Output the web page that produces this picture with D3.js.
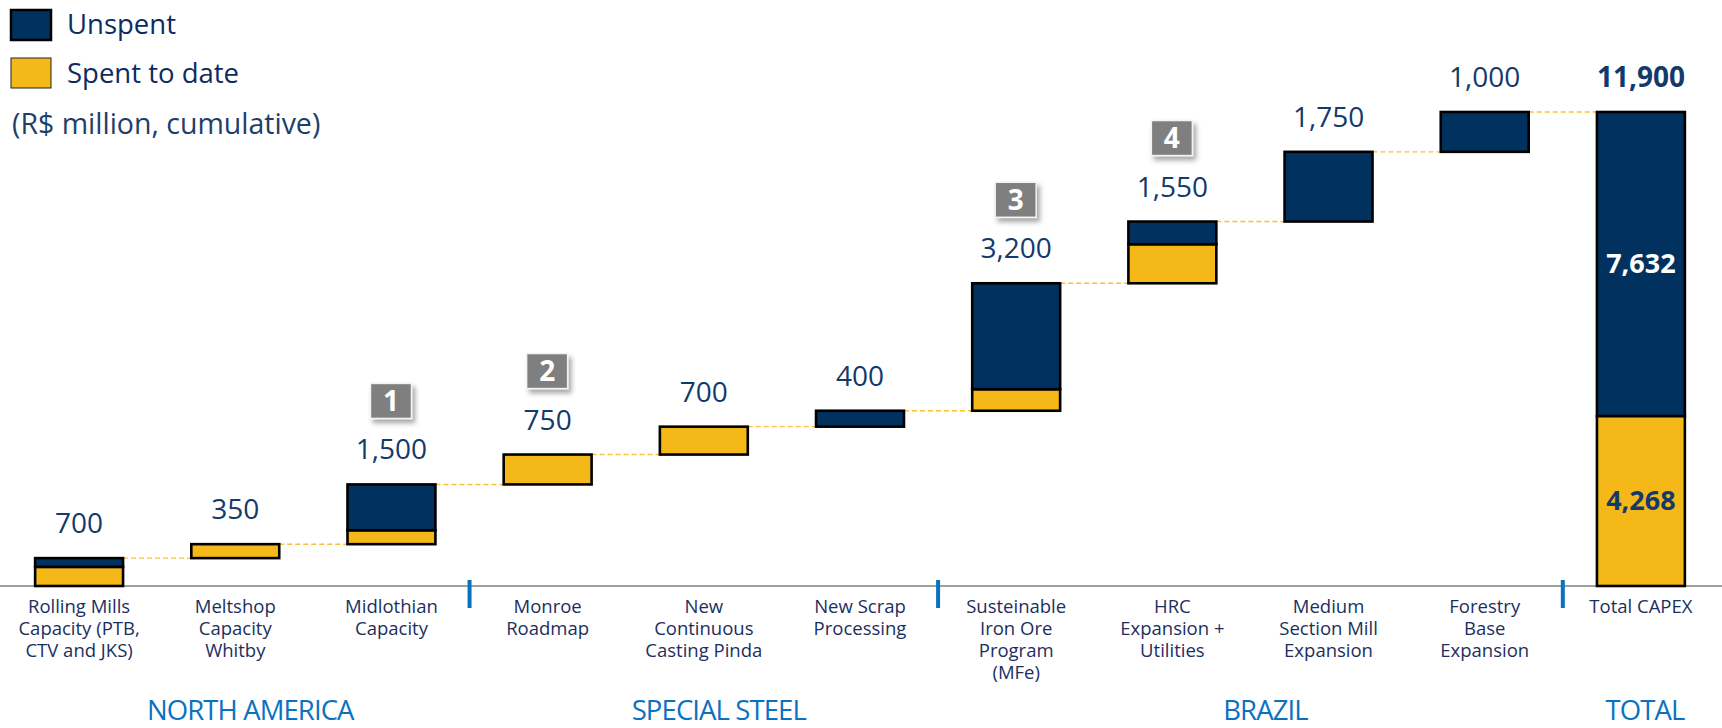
<!DOCTYPE html>
<html>
<head>
<meta charset="utf-8">
<script src="https://cdn.jsdelivr.net/npm/d3@7"></script>
<style>
	body { margin: 0; background: #fff; }
	svg { display: block; font-family: "Open Sans", sans-serif; }
</style>
</head>
<body>
<div id="chart"></div>
<script>
// configure chart
const width = 1722
const height = 728

// data (R$ million)
const categories = [
	"Rolling Mills|Capacity (PTB,|CTV and JKS)",
	"Meltshop|Capacity|Whitby",
	"Midlothian|Capacity",
	"Monroe|Roadmap",
	"New|Continuous|Casting Pinda",
	"New Scrap|Processing",
	"Susteinable|Iron Ore|Program|(MFe)",
	"HRC|Expansion +|Utilities",
	"Medium|Section Mill|Expansion",
	"Forestry|Base|Expansion",
	"Total CAPEX"
];
const projectTotals = [700, 350, 1500, 750, 700, 400, 3200, 1550, 1750, 1000];
const spent   = [480, 350, 350, 750, 700, 0, 540, 980, 0, 0];
const unspent = [220, 0, 1150, 0, 0, 400, 2660, 570, 1750, 1000];
const totalCapex = 11900;
const totalSpent = 4268;
const totalUnspent = 7632;

// sections under the axis, by category index
const sectionNames = ["NORTH AMERICA", "SPECIAL STEEL", "BRAZIL", "TOTAL"];
const sectionMembers = [[0, 1, 2], [3, 4, 5], [6, 7, 8, 9], [10]];

// numbered badges: [category index, number]
const badges = [[2, "1"], [3, "2"], [6, "3"], [7, "4"]];

const navy = "#00315f";
const gold = "#f4b918";
const textNavy = "#123a6b";
const sectionBlue = "#0a72bf";

window.onload = function(){
	var svg = d3.select('#chart').append('svg')
		.attr('width', width)
		.attr('height', height);

	var defs = svg.append('defs');
	var shadow = defs.append('filter').attr('id', 'shadow')
		.attr('x', '-30%').attr('y', '-30%').attr('width', '170%').attr('height', '170%');
	shadow.append('feDropShadow')
		.attr('dx', 3).attr('dy', 4).attr('stdDeviation', 2.5)
		.attr('flood-color', '#000').attr('flood-opacity', 0.35);

	var x = d3.scaleBand()
		.domain(categories)
		.range([1, 1719])
		.paddingInner(0.437)
		.paddingOuter(0.2185);

	var y = d3.scaleLinear()
		.domain([0, totalCapex])
		.range([586, 112]);

	// build the waterfall steps
	var steps = [];
	var base = 0;
	projectTotals.forEach(function(v, i){
		steps.push({cat: categories[i], base: base, spent: spent[i], unspent: unspent[i], total: v});
		base += v;
	});
	var totalStep = {cat: categories[10], base: 0, spent: totalSpent, unspent: totalUnspent, total: totalCapex};

	// axis line along the bottom
	var axis = d3.axisBottom(x).tickSize(0).tickFormat('');
	var axisG = svg.append('g').attr('transform', 'translate(0,' + y(0) + ')').call(axis);
	axisG.select('.domain').remove();
	axisG.append('line')
		.attr('x1', 0).attr('x2', width)
		.attr('stroke', '#7f7f7f').attr('stroke-width', 1.6);

	// dashed connectors from top of each step to the next bar
	var connectors = svg.append('g').attr('id', 'connectors');
	steps.forEach(function(d, i){
		var next = i < steps.length - 1 ? steps[i + 1].cat : totalStep.cat;
		connectors.append('line')
			.attr('x1', x(d.cat) + x.bandwidth())
			.attr('x2', x(next))
			.attr('y1', y(d.base + d.total))
			.attr('y2', y(d.base + d.total))
			.attr('stroke', '#f7c236')
			.attr('stroke-width', 1.4)
			.attr('stroke-dasharray', '5,3');
	});

	// bars: spent below, unspent on top, one outline for each piece
	var bars = svg.append('g').attr('id', 'bars');
	function drawBar(d){
		var pieces = [
			{from: d.base, to: d.base + d.spent, fill: gold},
			{from: d.base + d.spent, to: d.base + d.spent + d.unspent, fill: navy}
		].filter(function(p){ return p.to > p.from; });
		pieces.forEach(function(p){
			bars.append('rect')
				.attr('x', x(d.cat))
				.attr('width', x.bandwidth())
				.attr('y', y(p.to))
				.attr('height', y(p.from) - y(p.to))
				.attr('fill', p.fill)
				.attr('stroke', '#000')
				.attr('stroke-width', 2.6);
		});
	}
	steps.forEach(drawBar);
	drawBar(totalStep);

	// value labels above the bars
	var fmt = d3.format(',');
	svg.append('g').selectAll('text').data(steps).enter().append('text')
		.attr('x', function(d){ return x(d.cat) + x.bandwidth() / 2; })
		.attr('y', function(d){ return y(d.base + d.total) - 25; })
		.attr('text-anchor', 'middle')
		.attr('font-size', 28)
		.attr('fill', textNavy)
		.text(function(d){ return fmt(d.total); });

	var tx = x(totalStep.cat) + x.bandwidth() / 2;
	svg.append('text')
		.attr('x', tx).attr('y', y(totalCapex) - 25)
		.attr('text-anchor', 'middle').attr('font-size', 28).attr('font-weight', 700)
		.attr('fill', textNavy).text(fmt(totalCapex));
	svg.append('text')
		.attr('x', tx).attr('y', (y(totalSpent) + y(totalCapex)) / 2)
		.attr('dy', '0.35em')
		.attr('text-anchor', 'middle').attr('font-size', 27).attr('font-weight', 700)
		.attr('fill', '#fff').text(fmt(totalUnspent));
	svg.append('text')
		.attr('x', tx).attr('y', (y(0) + y(totalSpent)) / 2)
		.attr('dy', '0.35em')
		.attr('text-anchor', 'middle').attr('font-size', 27).attr('font-weight', 700)
		.attr('fill', textNavy).text(fmt(totalSpent));

	// numbered gray badges above some value labels
	var badgeG = svg.append('g').attr('id', 'badges');
	badges.forEach(function(b){
		var d = steps[b[0]];
		var cx = x(d.cat) + x.bandwidth() / 2;
		var bottom = y(d.base + d.total) - 66;
		var g = badgeG.append('g');
		g.append('rect')
			.attr('x', cx - 21).attr('y', bottom - 35)
			.attr('width', 41).attr('height', 35)
			.attr('fill', '#7f7f7f')
			.attr('stroke', '#f2f2f2').attr('stroke-width', 1.5)
			.attr('filter', 'url(#shadow)');
		g.append('text')
			.attr('x', cx - 0.5).attr('y', bottom - 17.5)
			.attr('dy', '0.36em')
			.attr('text-anchor', 'middle')
			.attr('font-size', 28).attr('font-weight', 700)
			.attr('fill', '#fff')
			.text(b[1]);
	});

	// category labels, one tspan per line
	var catLabels = svg.append('g').selectAll('text').data(categories).enter().append('text')
		.attr('text-anchor', 'middle')
		.attr('font-size', 18.5)
		.attr('fill', '#1b2f5e');
	catLabels.each(function(c){
		var t = d3.select(this);
		c.split('|').forEach(function(line, j){
			t.append('tspan')
				.attr('x', x(c) + x.bandwidth() / 2)
				.attr('y', 613 + j * 22)
				.text(line);
		});
	});

	// blue separators between sections
	for (var s = 0; s < sectionMembers.length - 1; s++) {
		var last = categories[sectionMembers[s][sectionMembers[s].length - 1]];
		var first = categories[sectionMembers[s + 1][0]];
		var sx = (x(last) + x.bandwidth() + x(first)) / 2;
		svg.append('rect')
			.attr('x', sx - 2).attr('y', 580)
			.attr('width', 4).attr('height', 28)
			.attr('fill', sectionBlue);
	}

	// section names
	sectionNames.forEach(function(name, s){
		var centers = sectionMembers[s].map(function(i){ return x(categories[i]) + x.bandwidth() / 2; });
		svg.append('text')
			.attr('x', d3.mean(centers) + (s === 3 ? 4 : 15))
			.attr('y', 720)
			.attr('text-anchor', 'middle')
			.attr('font-size', 27.5)
			.attr('letter-spacing', -0.9)
			.attr('fill', sectionBlue)
			.text(name);
	});

	// legend
	var legend = svg.append('g').attr('id', 'legend');
	legend.append('rect').attr('x', 11).attr('y', 10).attr('width', 40).attr('height', 30)
		.attr('fill', navy).attr('stroke', '#000').attr('stroke-width', 2.5);
	legend.append('rect').attr('x', 11).attr('y', 58).attr('width', 40).attr('height', 30)
		.attr('fill', gold).attr('stroke', '#222').attr('stroke-width', 1);
	legend.append('text').attr('x', 67).attr('y', 34).attr('font-size', 27.5)
		.attr('fill', '#0d2b63').text('Unspent');
	legend.append('text').attr('x', 67).attr('y', 83).attr('font-size', 27.5)
		.attr('fill', '#0d2b63').text('Spent to date');
	legend.append('text').attr('x', 12).attr('y', 134).attr('font-size', 28.5)
		.attr('fill', '#1e3f6a').text('(R$ million, cumulative)');
}
</script>
</body>
</html>
